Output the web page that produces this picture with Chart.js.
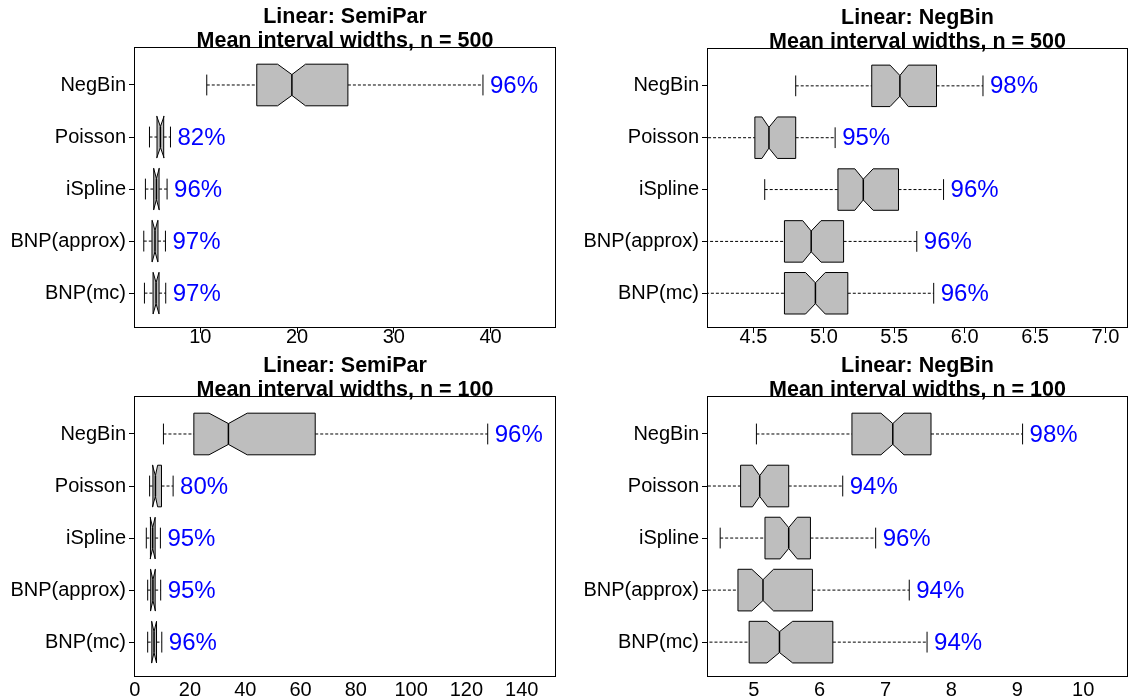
<!DOCTYPE html>
<html>
<head>
<meta charset="utf-8">
<script src="https://cdn.jsdelivr.net/npm/chart.js@4.4.0/dist/chart.umd.min.js"></script>
<style>
  html, body { margin: 0; padding: 0; background: #ffffff; }
  #wrap { position: relative; width: 1130px; height: 696px; overflow: hidden; }
  #wrap canvas { position: absolute; }
</style>
</head>
<body>
<div id="wrap">
  <canvas id="semi500" width="565" height="348" style="left:0px;top:0px"></canvas>
  <canvas id="neg500" width="565" height="348" style="left:565px;top:0px"></canvas>
  <canvas id="semi100" width="565" height="348" style="left:0px;top:348px"></canvas>
  <canvas id="neg100" width="565" height="348" style="left:565px;top:348px"></canvas>
</div>
<script>
// Methods, top to bottom
const methods = ['NegBin', 'Poisson', 'iSpline', 'BNP(approx)', 'BNP(mc)'];

// SemiPar truth, n = 500: whisker ends, hinges, median, notch limits, coverage
const semi500Low   = [10.67, 4.75, 4.33, 4.16, 4.23];
const semi500Q1    = [15.84, 5.53, 5.19, 5.01, 5.12];
const semi500Med   = [19.47, 5.88, 5.47, 5.32, 5.43];
const semi500Q3    = [25.26, 6.22, 5.74, 5.63, 5.74];
const semi500NotchLo = [17.99, 5.50, 5.18, 5.03, 5.13];
const semi500NotchHi = [20.88, 6.26, 5.76, 5.61, 5.73];
const semi500High  = [39.22, 6.92, 6.57, 6.40, 6.43];
const semi500Cover = ['96%', '82%', '96%', '97%', '97%'];
const semi500Ticks = [10, 20, 30, 40];
const semi500TickLabels = ['10', '20', '30', '40'];

// NegBin truth, n = 500
const neg500Low   = [4.80, 4.00, 4.58, 4.05, 4.02];
const neg500Q1    = [5.34, 4.51, 5.10, 4.72, 4.72];
const neg500Med   = [5.54, 4.61, 5.28, 4.91, 4.94];
const neg500Q3    = [5.80, 4.80, 5.53, 5.14, 5.17];
const neg500NotchLo = [5.47, 4.56, 5.22, 4.85, 4.87];
const neg500NotchHi = [5.60, 4.67, 5.35, 4.98, 5.01];
const neg500High  = [6.13, 5.08, 5.85, 5.66, 5.78];
const neg500Cover = ['98%', '95%', '96%', '96%', '96%'];
const neg500Ticks = [4.5, 5.0, 5.5, 6.0, 6.5, 7.0];
const neg500TickLabels = ['4.5', '5.0', '5.5', '6.0', '6.5', '7.0'];

// SemiPar truth, n = 100
const semi100Low   = [10.4, 5.4, 4.2, 4.7, 4.7];
const semi100Q1    = [21.4, 6.6, 5.7, 5.8, 6.2];
const semi100Med   = [33.9, 7.5, 6.5, 6.6, 7.0];
const semi100Q3    = [65.3, 9.7, 7.4, 7.4, 7.9];
const semi100NotchLo = [26.9, 6.4, 5.6, 5.7, 6.1];
const semi100NotchHi = [40.7, 8.3, 7.4, 7.5, 7.9];
const semi100High  = [127.7, 13.9, 9.3, 9.4, 9.8];
const semi100Cover = ['96%', '80%', '95%', '95%', '96%'];
const semi100Ticks = [0, 20, 40, 60, 80, 100, 120, 140];
const semi100TickLabels = ['0', '20', '40', '60', '80', '100', '120', '140'];

// NegBin truth, n = 100
const neg100Low   = [5.04, 4.00, 4.49, 4.00, 4.10];
const neg100Q1    = [6.49, 4.80, 5.17, 4.76, 4.93];
const neg100Med   = [7.11, 5.09, 5.53, 5.14, 5.39];
const neg100Q3    = [7.69, 5.53, 5.86, 5.89, 6.20];
const neg100NotchLo = [6.93, 4.98, 5.40, 4.97, 5.20];
const neg100NotchHi = [7.28, 5.21, 5.66, 5.30, 5.59];
const neg100High  = [9.08, 6.35, 6.85, 7.36, 7.63];
const neg100Cover = ['98%', '94%', '96%', '94%', '94%'];
const neg100Ticks = [5, 6, 7, 8, 9, 10];
const neg100TickLabels = ['5', '6', '7', '8', '9', '10'];

const FONT = "'Liberation Sans', Arial, Helvetica, sans-serif";
Chart.defaults.font.family = FONT;
Chart.defaults.color = '#000000';

// Draws notched horizontal box plots from the dataset's stats via the chart scales
const notchedBoxes = {
  id: 'notchedBoxes',
  afterDatasetsDraw(chart) {
    const { ctx, chartArea: a, scales: { x, y } } = chart;
    const st = chart.data.datasets[0].stats;
    const half = Math.abs(y.getPixelForValue(1.4) - y.getPixelForValue(1));
    ctx.save();
    ctx.beginPath();
    ctx.rect(a.left, a.top, a.width, a.height);
    ctx.clip();
    st.med.forEach((m, i) => {
      const yc = y.getPixelForValue(i + 1);
      const px = v => x.getPixelForValue(v);
      const lo = px(st.lo[i]), q1 = px(st.q1[i]), md = px(m), q3 = px(st.q3[i]);
      const n1 = px(st.nLo[i]), n2 = px(st.nHi[i]), hi = px(st.hi[i]);
      ctx.strokeStyle = '#000000';
      ctx.lineWidth = 1;
      // whiskers
      ctx.setLineDash([3, 2]);
      ctx.beginPath();
      ctx.moveTo(lo, yc); ctx.lineTo(q1, yc);
      ctx.moveTo(q3, yc); ctx.lineTo(hi, yc);
      ctx.stroke();
      ctx.setLineDash([]);
      // staples
      ctx.beginPath();
      ctx.moveTo(lo, yc - half / 2); ctx.lineTo(lo, yc + half / 2);
      ctx.moveTo(hi, yc - half / 2); ctx.lineTo(hi, yc + half / 2);
      ctx.stroke();
      // notched box
      ctx.beginPath();
      ctx.moveTo(q1, yc - half);
      ctx.lineTo(q1, yc + half);
      ctx.lineTo(n1, yc + half);
      ctx.lineTo(md, yc + half * 0.5);
      ctx.lineTo(n2, yc + half);
      ctx.lineTo(q3, yc + half);
      ctx.lineTo(q3, yc - half);
      ctx.lineTo(n2, yc - half);
      ctx.lineTo(md, yc - half * 0.5);
      ctx.lineTo(n1, yc - half);
      ctx.closePath();
      ctx.fillStyle = '#bebebe';
      ctx.fill();
      ctx.stroke();
      // median
      ctx.lineWidth = 1.5;
      ctx.beginPath();
      ctx.moveTo(md, yc - half * 0.5); ctx.lineTo(md, yc + half * 0.5);
      ctx.stroke();
    });
    ctx.restore();
    // coverage labels
    ctx.save();
    ctx.fillStyle = '#0000ff';
    ctx.font = '24px ' + FONT;
    ctx.textAlign = 'left';
    ctx.textBaseline = 'middle';
    st.cover.forEach((t, i) => {
      ctx.fillText(t, x.getPixelForValue(st.hi[i]) + 7, y.getPixelForValue(i + 1) + 1);
    });
    // frame
    ctx.strokeStyle = '#000000';
    ctx.lineWidth = 1;
    ctx.strokeRect(a.left + 0.5, a.top + 0.5, a.width - 1, a.height - 1);
    // two-line title
    const title = chart.options.plugins.panelTitle.lines;
    ctx.fillStyle = '#000000';
    ctx.font = 'bold 21.5px ' + FONT;
    ctx.textAlign = 'center';
    ctx.textBaseline = 'alphabetic';
    const cx = (a.left + a.right) / 2;
    ctx.fillText(title[0], cx, a.top - 24);
    ctx.fillText(title[1], cx, a.top - 0.5);
    ctx.restore();
  }
};

function panel(id, cfg) {
  const stats = {
    lo: cfg.lo, q1: cfg.q1, med: cfg.med, q3: cfg.q3,
    nLo: cfg.nLo, nHi: cfg.nHi, hi: cfg.hi, cover: cfg.cover
  };
  return new Chart(document.getElementById(id), {
    type: 'scatter',
    data: {
      datasets: [{
        data: cfg.med.map((m, i) => ({ x: m, y: i + 1 })),
        pointRadius: 0,
        pointHoverRadius: 0,
        stats: stats
      }]
    },
    options: {
      responsive: false,
      animation: false,
      events: [],
      layout: { padding: { left: 0, right: 565 - cfg.right, top: cfg.top, bottom: 0 } },
      plugins: {
        legend: { display: false },
        tooltip: { enabled: false },
        panelTitle: { lines: cfg.title }
      },
      scales: {
        x: {
          type: 'linear',
          min: cfg.xmin,
          max: cfg.xmax,
          border: { display: false },
          grid: {
            display: cfg.xTickMarks,
            drawOnChartArea: false,
            drawTicks: true,
            tickLength: 5,
            color: '#000000'
          },
          ticks: {
            autoSkip: false,
            maxRotation: 0,
            padding: cfg.xTickMarks ? -6 : -2,
            font: { size: 20, lineHeight: 1 },
            color: '#000000',
            callback: (v) => {
              const k = cfg.ticks.indexOf(v);
              return k >= 0 ? cfg.tickLabels[k] : '';
            }
          },
          afterBuildTicks: (s) => { s.ticks = cfg.ticks.map(v => ({ value: v })); },
          afterFit: (s) => { s.height = 348 - cfg.bottom; }
        },
        y: {
          type: 'linear',
          min: 0.27,
          max: 5.67,
          reverse: true,
          border: { display: false },
          grid: {
            display: true,
            drawOnChartArea: false,
            drawTicks: true,
            tickLength: 5,
            color: '#000000'
          },
          ticks: {
            autoSkip: false,
            padding: 3,
            font: { size: 20 },
            color: '#000000',
            callback: (v) => methods[v - 1]
          },
          afterBuildTicks: (s) => { s.ticks = [1, 2, 3, 4, 5].map(v => ({ value: v })); },
          afterFit: (s) => { s.width = cfg.left; }
        }
      }
    },
    plugins: [notchedBoxes]
  });
}

panel('semi500', {
  title: ['Linear: SemiPar', 'Mean interval widths, n = 500'],
  lo: semi500Low, q1: semi500Q1, med: semi500Med, q3: semi500Q3,
  nLo: semi500NotchLo, nHi: semi500NotchHi, hi: semi500High, cover: semi500Cover,
  ticks: semi500Ticks, tickLabels: semi500TickLabels,
  xmin: 3.15, xmax: 46.77, xTickMarks: true,
  left: 134, right: 556, top: 47, bottom: 328
});
panel('neg500', {
  title: ['Linear: NegBin', 'Mean interval widths, n = 500'],
  lo: neg500Low, q1: neg500Q1, med: neg500Med, q3: neg500Q3,
  nLo: neg500NotchLo, nHi: neg500NotchHi, hi: neg500High, cover: neg500Cover,
  ticks: neg500Ticks, tickLabels: neg500TickLabels,
  xmin: 4.17, xmax: 7.16, xTickMarks: true,
  left: 142, right: 563, top: 48, bottom: 328
});
panel('semi100', {
  title: ['Linear: SemiPar', 'Mean interval widths, n = 100'],
  lo: semi100Low, q1: semi100Q1, med: semi100Med, q3: semi100Q3,
  nLo: semi100NotchLo, nHi: semi100NotchHi, hi: semi100High, cover: semi100Cover,
  ticks: semi100Ticks, tickLabels: semi100TickLabels,
  xmin: -0.25, xmax: 152.4, xTickMarks: false,
  left: 134, right: 556, top: 48, bottom: 329
});
panel('neg100', {
  title: ['Linear: NegBin', 'Mean interval widths, n = 100'],
  lo: neg100Low, q1: neg100Q1, med: neg100Med, q3: neg100Q3,
  nLo: neg100NotchLo, nHi: neg100NotchHi, hi: neg100High, cover: neg100Cover,
  ticks: neg100Ticks, tickLabels: neg100TickLabels,
  xmin: 4.29, xmax: 10.68, xTickMarks: false,
  left: 142, right: 563, top: 48, bottom: 329
});
</script>
</body>
</html>
